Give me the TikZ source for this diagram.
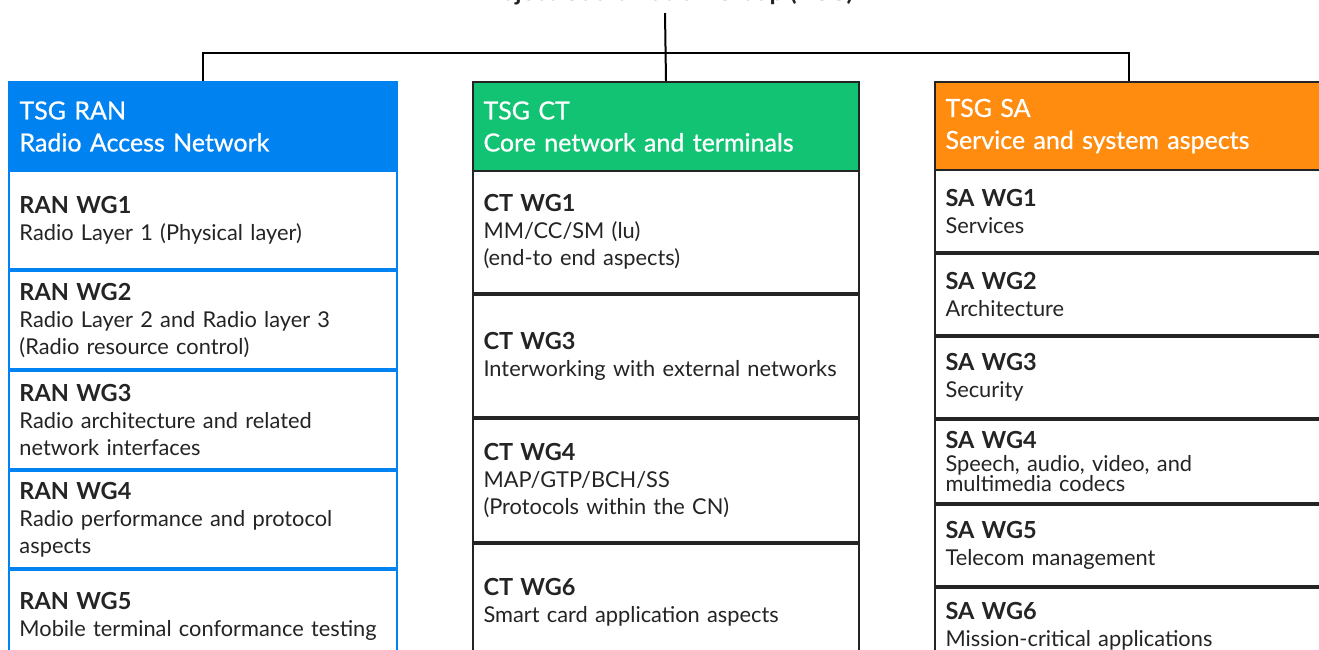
\documentclass[tikz,border=0pt]{standalone}
\usepackage{fontspec}
\setmainfont{Lato}
\newfontfamily\hdrfont{Lato}[FakeBold=0.7]
\definecolor{ranblue}{HTML}{0082F0}
\definecolor{ctgreen}{HTML}{12C373}
\definecolor{saorange}{HTML}{FF8C0F}
\definecolor{ink}{HTML}{242424}
\newcommand{\wgt}[2]{{\fontsize{23.5}{27}\selectfont\bfseries #1}\\#2}
\begin{document}
\begin{tikzpicture}[x=1pt,y=-1pt,
  box/.style={draw=#1, line width=2pt, anchor=north west, inner xsep=10.5pt, inner ysep=0pt, align=left, text=ink,
     font=\fontsize{21.8}{27}\selectfont},
  hdr/.style={box=#1, fill=#1, text=white, font=\hdrfont\fontsize{25}{32}\selectfont},
  hdrk/.style={draw=ink, line width=2pt, anchor=north west, inner xsep=10.5pt, inner ysep=0pt, align=left, fill=#1, text=white, font=\hdrfont\fontsize{25}{32}\selectfont},
  wran/.style={box=ranblue, minimum width=388pt, text width=367pt, minimum height=#1},
  wct/.style={box=ink, minimum width=386pt, text width=365pt, minimum height=#1},
  wsa/.style={box=ink, minimum width=388pt, text width=367pt, minimum height=#1},
  conn/.style={draw=black, line width=2pt}]
\useasboundingbox (0,0) rectangle (1319,649);
\clip (0,0) rectangle (1319,649);
\fill[white] (0,0) rectangle (1319,649);

\node[anchor=base, font=\fontsize{25}{27}\selectfont\bfseries, text=ink] (pcgt) at (665,0) {Project Coordination Group (PCG)};
\coordinate (pcg) at (665,13);
\coordinate (bus) at (665,53);

% RAN
\node[wran=98pt] (ran1) at (8,170) {\wgt{RAN WG1}{Radio Layer 1 (Physical layer)}};
\node[wran=98pt] (ran2) at (ran1.south west) {\wgt{RAN WG2}{Radio Layer 2 and Radio layer 3\\(Radio resource control)}};
\node[wran=98pt] (ran3) at (ran2.south west) {\wgt{RAN WG3}{Radio architecture and related\\network interfaces}};
\node[wran=97pt] (ran4) at (ran3.south west) {\wgt{RAN WG4}{Radio performance and protocol\\aspects}};
\node[wran=92pt] (ran5) at (ran4.south west) {\wgt{RAN WG5}{Mobile terminal conformance testing}};
\node[hdr=ranblue, minimum width=388pt, text width=367pt, minimum height=89pt] (ranh) at (8,81) {TSG RAN\\Radio Access Network};

% CT
\node[wct=122pt] (ct1) at (472,170) {\wgt{CT WG1}{MM/CC/SM (lu)\\(end-to end aspects)}};
\node[wct=122pt] (ct3) at (ct1.south west) {\wgt{CT WG3}{Interworking with external networks}};
\node[wct=123pt] (ct4) at (ct3.south west) {\wgt{CT WG4}{MAP/GTP/BCH/SS\\(Protocols within the CN)}};
\node[wct=116pt] (ct6) at (ct4.south west) {\wgt{CT WG6}{Smart card application aspects}};
\node[hdrk=ctgreen, minimum width=386pt, text width=365pt, minimum height=89pt] (cth) at (472,81) {TSG CT\\Core network and terminals};

% SA
\node[wsa=82pt] (sa1) at (934,169) {\wgt{SA WG1}{Services}};
\node[wsa=81pt] (sa2) at (sa1.south west) {\wgt{SA WG2}{Architecture}};
\node[wsa=81pt] (sa3) at (sa2.south west) {\wgt{SA WG3}{Security}};
\node[wsa=83pt] (sa4) at (sa3.south west) {{\fontsize{23.5}{27}\selectfont\bfseries SA WG4}\\[-4pt]Speech, audio, video, and\\[-7pt]multimedia codecs};
\node[wsa=81pt] (sa5) at (sa4.south west) {\wgt{SA WG5}{Telecom management}};
\node[wsa=76pt] (sa6) at (sa5.south west) {\wgt{SA WG6}{Mission-critical applications}};
\node[hdrk=saorange, minimum width=388pt, text width=367pt, minimum height=88pt] (sah) at (934,81) {TSG SA\\Service and system aspects};

% connectors
\draw[conn] (pcg) -- (cth.north);
\draw[conn] (ranh.north) |- (bus) -| (sah.north);
\end{tikzpicture}
\end{document}
